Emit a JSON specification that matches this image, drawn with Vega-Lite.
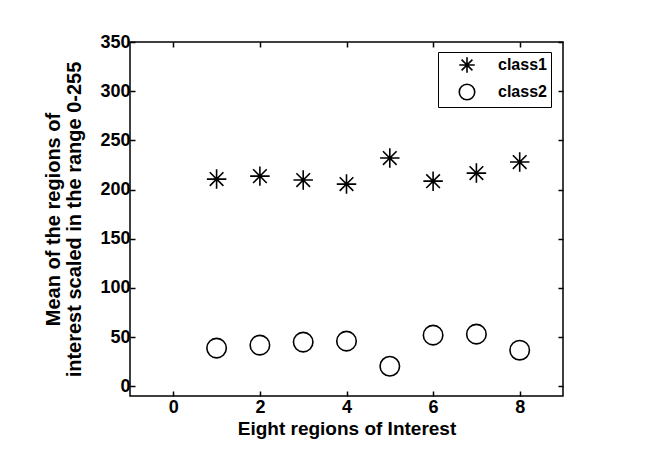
{
  "$schema": "https://vega.github.io/schema/vega-lite/v6.json",
  "width": 433,
  "height": 354,
  "autosize": {"type": "none"},
  "padding": {"left": 130, "top": 42, "right": 94, "bottom": 55},
  "background": "white",
  "config": {
    "view": {"stroke": "black", "strokeWidth": 1.5},
    "font": "Liberation Sans",
    "axis": {
      "labelFont": "Liberation Sans",
      "labelFontWeight": "bold",
      "labelFontSize": 18,
      "labelColor": "black",
      "titleFont": "Liberation Sans",
      "titleFontWeight": "bold",
      "titleFontSize": 19,
      "titleColor": "black",
      "grid": false,
      "domain": false,
      "tickColor": "black",
      "tickWidth": 1.5,
      "tickSize": -5
    }
  },
  "data": {
    "values": [
      {"region": 1, "mean": 210.6, "cls": "class1"},
      {"region": 2, "mean": 213.6, "cls": "class1"},
      {"region": 3, "mean": 209.6, "cls": "class1"},
      {"region": 4, "mean": 205.5, "cls": "class1"},
      {"region": 5, "mean": 232, "cls": "class1"},
      {"region": 6, "mean": 208.5, "cls": "class1"},
      {"region": 7, "mean": 216.7, "cls": "class1"},
      {"region": 8, "mean": 227.9, "cls": "class1"},
      {"region": 1, "mean": 38.7, "cls": "class2"},
      {"region": 2, "mean": 41.7, "cls": "class2"},
      {"region": 3, "mean": 44.8, "cls": "class2"},
      {"region": 4, "mean": 45.8, "cls": "class2"},
      {"region": 5, "mean": 20.3, "cls": "class2"},
      {"region": 6, "mean": 51.9, "cls": "class2"},
      {"region": 7, "mean": 52.9, "cls": "class2"},
      {"region": 8, "mean": 36.6, "cls": "class2"}
    ]
  },
  "layer": [
    {
      "mark": {"type": "point", "filled": false, "strokeWidth": 1.6, "opacity": 1, "size": 380},
      "encoding": {
        "x": {
          "field": "region", "type": "quantitative",
          "scale": {"domain": [-1, 9], "nice": false, "zero": false},
          "axis": {"values": [0, 2, 4, 6, 8], "title": "Eight regions of Interest", "labelPadding": 7, "titlePadding": 3, "orient": "bottom"}
        },
        "y": {
          "field": "mean", "type": "quantitative",
          "scale": {"domain": [-10, 350], "nice": false, "zero": false},
          "axis": {"values": [0, 50, 100, 150, 200, 250, 300, 350], "title": ["Mean of the regions of", "interest scaled in the range 0-255"], "titleFontSize": 20, "titleLineHeight": 21, "labelPadding": 5, "titlePadding": 15, "orient": "left"}
        },
        "shape": {
          "field": "cls", "type": "nominal",
          "scale": {"domain": ["class1", "class2"], "range": ["M0,-1L0,1M-1,0L1,0M-0.7,-0.7L0.7,0.7M-0.7,0.7L0.7,-0.7", "circle"]},
          "legend": {
            "title": null,
            "orient": "none",
            "legendX": 308,
            "legendY": 10,
            "strokeColor": "black",
            "fillColor": "white",
            "padding": 4,
            "symbolSize": 240,
            "symbolStrokeColor": "black",
            "symbolFillColor": "transparent",
            "symbolStrokeWidth": 1.6,
            "symbolOffset": 16,
            "labelFont": "Liberation Sans",
            "labelFontWeight": "bold",
            "labelFontSize": 16,
            "labelColor": "black",
            "labelOffset": 22,
            "labelExpr": "datum.label + '    '",
            "rowPadding": 5
          }
        },
        "color": {"value": "black"}
      }
    },
    {
      "mark": {"type": "point", "opacity": 0},
      "encoding": {
        "x": {"field": "region", "type": "quantitative", "axis": {"orient": "top", "values": [0, 2, 4, 6, 8], "labels": false, "title": null}},
        "y": {"field": "mean", "type": "quantitative", "axis": {"orient": "right", "values": [0, 50, 100, 150, 200, 250, 300, 350], "labels": false, "title": null}}
      }
    }
  ],
  "resolve": {"axis": {"x": "independent", "y": "independent"}}
}
